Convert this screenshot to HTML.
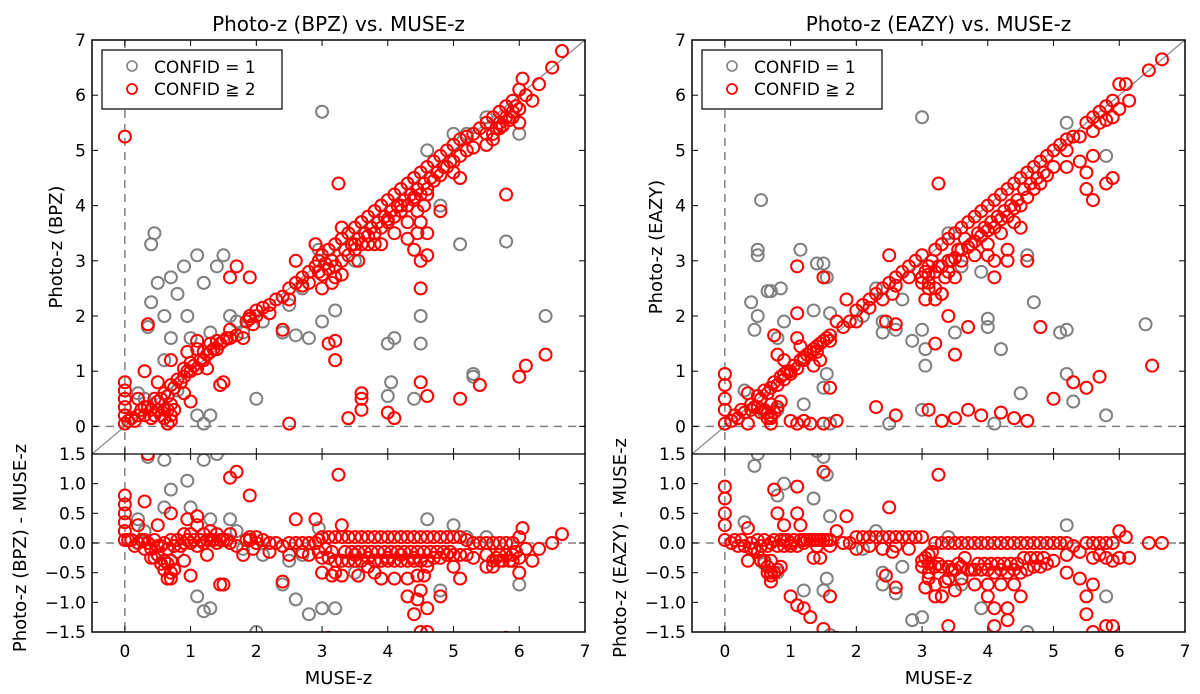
<!DOCTYPE html>
<html><head><meta charset="utf-8">
<style>
html,body{margin:0;padding:0;background:#fff;overflow:hidden;width:1200px;height:694px;}
svg{display:block;}
svg text{font-family:"DejaVu Sans","Liberation Sans",sans-serif;fill:#000;}
</style></head>
<body>
<svg id="chart" width="1200" height="694" xmlns="http://www.w3.org/2000/svg"></svg>
<script>
// ---- data: [MUSE-z, photo-z] ----
const bpzRed = [[0,0.05],[0,0.2],[0,0.35],[0,0.5],[0,0.65],[0,0.8],[0,5.25],[0.05,0.1],[0.1,0.15],[0.15,0.1],[0.2,0.2],[0.25,0.3],[0.3,0.2],[0.35,0.35],[0.4,0.3],[0.45,0.5],[0.5,0.45],[0.55,0.5],[0.6,0.6],[0.65,0.55],[0.7,0.75],[0.7,0.1],[0.7,0.2],[0.7,1.2],[0.75,0.7],[0.8,0.85],[0.85,0.8],[0.9,0.9],[0.95,1.0],[1.0,1.0],[1.05,1.1],[1.1,1.05],[1.15,1.2],[1.2,1.2],[1.25,1.3],[1.3,1.35],[1.35,1.4],[1.4,1.4],[1.45,1.5],[1.5,1.55],[1.55,1.6],[1.6,1.6],[1.1,1.55],[1.6,2.7],[1.5,0.8],[1.7,2.9],[1.85,1.9],[1.9,2.0],[1.95,1.85],[2.0,2.0],[1.9,2.7],[2.1,2.15],[2.2,2.2],[2.3,2.3],[2.4,2.35],[2.5,2.5],[2.6,2.6],[2.5,0.05],[2.4,1.75],[2.7,2.7],[2.8,2.8],[2.9,2.9],[2.95,3.0],[3.0,3.1],[3.05,2.95],[3.1,3.2],[3.15,3.0],[3.2,3.3],[3.25,4.4],[3.3,3.4],[3.35,3.2],[3.4,3.5],[3.45,3.3],[3.5,3.6],[3.55,3.4],[3.6,3.7],[3.65,3.5],[3.7,3.8],[3.75,3.6],[3.8,3.9],[3.85,3.7],[3.9,4.0],[3.95,3.8],[4.0,4.1],[4.05,3.9],[4.1,4.2],[4.15,4.0],[4.2,4.3],[4.25,4.1],[4.3,4.4],[4.35,4.2],[4.4,4.5],[4.45,4.3],[4.5,4.6],[4.55,4.4],[4.6,4.7],[4.65,4.5],[4.7,4.8],[4.75,4.6],[4.8,4.9],[4.85,4.7],[4.9,5.0],[4.95,4.8],[5.0,5.1],[5.1,5.2],[5.2,5.25],[5.3,5.3],[5.4,5.4],[5.5,5.5],[5.6,5.6],[5.7,5.7],[5.8,5.8],[5.9,5.9],[6.0,6.1],[6.05,6.3],[6.1,6.0],[6.2,5.9],[6.3,6.2],[6.5,6.5],[6.65,6.8],[5.8,4.2],[5.1,4.5],[4.6,3.5],[4.3,3.4],[3.9,3.3],[3.5,3.3],[3.2,2.7],[3.1,1.5],[3.2,1.2],[3.2,1.55],[3.6,0.6],[3.6,0.5],[3.6,0.3],[3.4,0.15],[4.0,0.25],[4.1,0.15],[4.5,0.8],[4.6,0.55],[4.5,2.5],[5.1,0.5],[5.4,0.75],[6.0,0.9],[6.1,1.1],[6.4,1.3],[1.0,0.45],[0.3,1.0],[0.5,0.8],[0.2,0.5],[0.6,0.3],[0.65,0.05],[0.9,0.6],[1.1,1.4],[1.3,1.5],[1.8,1.6],[2.6,3.0],[2.9,3.3],[3.3,3.6],[3.7,3.3],[4.0,3.7],[4.2,4.0],[4.4,4.1],[4.5,3.7],[4.6,4.2],[5.0,4.6],[5.5,5.3],[5.6,5.2],[5.7,5.4],[5.9,5.6],[6.0,5.5],[4.8,3.9],[0.35,1.85],[1.45,0.75],[0.95,1.35],[1.25,1.05]];
const bpzRedExtra = [[2.95,2.8],[3.0,2.75],[3.1,2.85],[3.2,2.9],[3.3,3.0],[3.4,3.1],[3.5,3.2],[3.6,3.3],[3.7,3.45],[3.8,3.5],[3.9,3.6],[4.0,3.75],[4.1,3.8],[4.2,3.9],[4.3,4.0],[4.4,4.15],[4.5,4.2],[4.45,3.9],[4.55,4.0],[4.6,4.3],[4.7,4.45],[4.8,4.55],[4.9,4.7],[5.0,4.8],[5.1,4.9],[5.2,5.0],[5.3,5.05],[5.5,5.1],[5.6,5.3],[5.65,5.4],[5.7,5.5],[5.75,5.45],[5.8,5.6],[5.85,5.55],[5.9,5.7],[5.95,5.8],[6.0,5.75],[3.3,2.75],[3.55,3.0],[3.8,3.3],[4.1,3.5],[4.3,3.7],[4.4,3.2],[4.5,3.0],[4.6,3.1],[4.45,3.5],[3.0,2.5],[3.15,2.6],[2.5,2.3],[2.2,2.05],[1.7,1.65],[0.3,0.35],[0.5,0.3],[0.55,0.2],[0.6,0.15],[0.65,0.3],[0.7,0.4],[0.75,0.3],[0.4,0.15],[0.45,0.2],[0.9,1.05],[1.0,1.15],[1.2,1.35],[1.4,1.55],[1.6,1.75],[1.9,1.95],[2.0,2.1],[2.7,2.55],[2.8,2.6]];
const bpzGrey = [[0.4,3.3],[0.45,3.5],[0.5,2.6],[0.4,2.25],[0.6,2.0],[0.7,2.7],[0.8,2.4],[0.9,2.9],[0.95,2.0],[1.0,1.6],[1.1,3.1],[1.2,2.6],[1.3,1.7],[1.4,2.9],[1.5,3.1],[1.6,2.0],[1.1,0.2],[1.2,0.05],[1.3,0.2],[2.0,0.5],[2.1,1.9],[2.4,1.7],[2.6,1.65],[2.8,1.6],[2.95,3.2],[3.0,5.7],[3.0,1.9],[3.2,1.2],[3.2,2.1],[3.5,3.0],[3.8,3.5],[4.0,1.5],[4.1,1.6],[4.05,0.8],[4.0,0.55],[4.4,0.5],[4.5,2.0],[4.5,1.5],[4.6,5.0],[4.8,4.0],[5.0,5.3],[5.1,3.3],[5.2,5.3],[5.3,0.9],[5.3,0.95],[5.8,3.35],[6.4,2.0],[6.0,5.3],[0.3,0.5],[0.5,0.3],[0.8,0.65],[0.2,0.6],[0.35,1.8],[0.6,1.2],[0.7,1.6],[1.7,1.9],[1.8,1.7],[2.5,2.2],[2.7,2.5],[3.3,3.4],[3.6,3.7],[4.2,4.3],[4.4,4.5],[5.5,5.6]];
const eazyRed = [[0,0.05],[0,0.3],[0,0.5],[0,0.75],[0,0.95],[0.1,0.1],[0.15,0.2],[0.2,0.15],[0.25,0.3],[0.3,0.25],[0.35,0.6],[0.4,0.4],[0.45,0.35],[0.5,0.55],[0.55,0.5],[0.6,0.65],[0.65,0.6],[0.7,0.7],[0.7,0.05],[0.75,0.8],[0.8,0.75],[0.8,1.3],[0.85,0.9],[0.9,0.85],[0.95,1.0],[1.0,1.0],[1.05,1.1],[1.1,1.05],[1.15,1.2],[1.2,1.2],[1.25,1.3],[1.3,1.35],[1.35,1.4],[1.4,1.45],[1.45,1.5],[1.5,1.55],[1.55,1.6],[1.6,1.65],[1.1,1.6],[1.15,1.45],[1.1,2.9],[1.5,2.7],[1.1,2.05],[1.7,1.9],[1.8,1.8],[1.85,2.3],[1.9,1.9],[2.0,2.1],[2.1,2.2],[2.2,2.3],[2.3,2.4],[2.4,2.5],[2.5,2.6],[2.55,2.4],[2.6,2.7],[2.7,2.8],[2.8,2.9],[2.5,3.1],[2.45,1.9],[2.6,1.85],[2.9,3.0],[3.0,2.7],[3.0,3.1],[3.05,2.8],[3.1,2.9],[3.1,2.6],[3.15,3.0],[3.2,2.5],[3.2,3.2],[3.25,2.9],[3.25,4.4],[3.3,3.3],[3.3,2.4],[3.35,2.7],[3.4,3.4],[3.45,3.0],[3.5,3.5],[3.55,3.2],[3.6,3.6],[3.65,3.4],[3.7,3.7],[3.75,3.3],[3.8,3.8],[3.85,3.5],[3.9,3.9],[3.95,3.6],[4.0,4.0],[4.05,3.7],[4.1,4.1],[4.15,3.8],[4.2,4.2],[4.25,3.9],[4.3,4.3],[4.35,4.0],[4.4,4.4],[4.45,4.1],[4.5,4.5],[4.55,4.3],[4.6,4.6],[4.65,4.4],[4.7,4.7],[4.75,4.5],[4.8,4.8],[4.85,4.6],[4.9,4.9],[5.0,5.0],[5.1,5.1],[5.2,5.2],[5.3,5.25],[5.5,5.5],[5.6,5.6],[5.7,5.7],[5.8,5.8],[5.9,5.9],[6.0,6.2],[6.1,6.2],[6.15,5.9],[6.45,6.45],[6.65,6.65],[5.6,4.1],[5.5,4.3],[5.5,4.6],[5.2,4.7],[5.4,4.8],[5.6,4.9],[5.8,4.4],[5.9,4.5],[4.0,3.1],[4.3,3.0],[4.6,3.0],[3.7,1.8],[3.5,1.3],[4.1,2.7],[4.8,1.8],[3.4,2.0],[3.2,1.5],[3.1,0.3],[3.3,0.1],[3.5,0.15],[3.7,0.3],[3.9,0.2],[4.2,0.25],[4.4,0.15],[4.6,0.1],[5.0,0.5],[5.3,0.8],[5.5,0.7],[5.7,0.9],[2.6,0.2],[2.3,0.35],[1.0,0.1],[1.1,0.05],[1.2,0.1],[1.3,0.05],[1.5,0.05],[1.7,0.1],[1.6,0.7],[6.5,1.1],[0.75,1.65],[0.35,0.05],[0.7,0.15],[0.9,1.2],[1.35,1.1],[1.45,1.2]];
const eazyRedExtra = [[3.0,2.6],[3.1,2.75],[3.2,2.8],[3.3,2.9],[3.4,3.0],[3.5,3.05],[3.6,3.2],[3.7,3.25],[3.8,3.35],[3.9,3.45],[4.0,3.55],[4.1,3.6],[4.2,3.75],[4.3,3.8],[4.4,3.95],[4.5,4.0],[4.6,4.15],[4.7,4.3],[4.8,4.4],[4.9,4.55],[5.0,4.7],[3.4,2.8],[3.6,3.0],[3.8,3.1],[4.0,3.3],[4.2,3.5],[4.4,3.7],[4.5,3.6],[4.3,3.2],[4.1,3.0],[3.3,2.4],[3.5,2.7],[3.2,2.3],[3.05,2.3],[3.1,2.5],[5.2,5.0],[5.4,5.25],[5.6,5.35],[5.7,5.5],[5.8,5.55],[5.9,5.6],[6.0,5.75],[0.4,0.3],[0.5,0.35],[0.55,0.25],[0.6,0.3],[0.65,0.25],[0.7,0.4],[0.75,0.25],[0.8,0.35],[0.85,0.45],[0.7,0.2],[0.65,0.15],[0.9,0.95],[1.0,0.95],[1.2,1.25],[1.4,1.35],[1.6,1.55],[2.0,1.9],[2.2,2.15],[2.4,2.3],[2.6,2.55],[2.8,2.7]];
const eazyGrey = [[0.55,4.1],[0.5,3.2],[0.5,3.1],[0.4,2.25],[0.45,1.75],[0.5,2.0],[0.65,2.45],[0.7,2.45],[0.85,2.5],[0.9,1.9],[0.8,1.6],[1.15,3.2],[1.4,2.95],[1.5,2.95],[1.55,2.7],[1.35,2.1],[1.6,2.05],[1.55,0.95],[1.5,0.7],[1.2,0.4],[0.8,0.3],[1.6,0.05],[2.4,1.9],[2.4,1.7],[2.6,1.75],[2.7,2.3],[2.85,1.55],[3.0,5.6],[3.0,1.75],[3.05,1.4],[3.05,1.1],[3.5,1.3],[3.5,1.7],[3.6,2.9],[3.9,2.8],[4.0,1.8],[4.0,1.95],[4.2,1.4],[4.1,0.05],[4.5,0.6],[4.6,3.1],[4.7,2.25],[5.1,1.7],[5.2,1.75],[5.2,0.95],[5.3,0.45],[5.8,0.2],[5.8,4.9],[6.4,1.85],[5.1,5.1],[5.2,5.5],[2.5,0.05],[3.0,0.3],[0.3,0.65],[0.6,0.25],[2.1,2.0],[2.3,2.5],[3.4,3.5]];

const zoomRange = [-0.5, 7];
const topRange = [-0.5, 7];
const resRange = [-1.5, 1.5];
const xTicks = [0,1,2,3,4,5,6,7];
const yTicks = [0,1,2,3,4,5,6,7];
const resTicks = [-1.5,-1.0,-0.5,0.0,0.5,1.0,1.5];
const resTickLabels = ["\u22121.5","\u22121.0","\u22120.5","0.0","0.5","1.0","1.5"];

const NS = "http://www.w3.org/2000/svg";
const svg = document.getElementById('chart');
function mk(tag, attrs, parent){const e=document.createElementNS(NS,tag);for(const k in attrs)e.setAttribute(k,attrs[k]);(parent||svg).appendChild(e);return e;}

const TOP=40, MID=454, BOT=632;
function panel(ox, title, ylab, ylabRes, red, grey, key){
  const L=ox, R=ox+493;
  const g = mk('g',{});
  
  
  const sx = v => L + (v - zoomRange[0])/(zoomRange[1]-zoomRange[0])*(R-L);
  const sy = v => MID - (v - topRange[0])/(topRange[1]-topRange[0])*(MID-TOP);
  const sr = v => BOT - (v - resRange[0])/(resRange[1]-resRange[0])*(BOT-MID);
  const cid='clipT'+key, cid2='clipB'+key;
  const defs=mk('defs',{},g);
  const c1=mk('clipPath',{id:cid},defs); mk('rect',{x:L,y:TOP,width:R-L,height:MID-TOP},c1);
  const c2=mk('clipPath',{id:cid2},defs); mk('rect',{x:L,y:MID,width:R-L,height:BOT-MID},c2);
  const tg=mk('g',{'clip-path':`url(#${cid})`},g);
  const diag=mk('line',{x1:sx(-0.5),y1:sy(-0.5),x2:sx(7),y2:sy(7),stroke:'#808080','stroke-width':1.2},tg);
  
  
  mk('line',{x1:sx(0),y1:TOP,x2:sx(0),y2:MID,stroke:'#808080','stroke-width':1.5,'stroke-dasharray':'8,6'},tg);
  mk('line',{x1:L,y1:sy(0),x2:R,y2:sy(0),stroke:'#808080','stroke-width':1.5,'stroke-dasharray':'8,6'},tg);
  const drawPts=(arr,col,res,parent,nm)=>{arr.forEach(p=>{
    const y = res ? sr(p[1]-p[0]) : sy(p[1]);
    const c=mk('circle',{cx:sx(p[0]),cy:y,r:6,fill:'none',stroke:col,'stroke-width':2},parent);
    
    
  });};
  drawPts(grey,'#808080',false,tg,'point-confid-1');
  drawPts(red,'#ff0000',false,tg,'point-confid-2');
  const bg=mk('g',{'clip-path':`url(#${cid2})`},g);
  mk('line',{x1:sx(0),y1:MID,x2:sx(0),y2:BOT,stroke:'#808080','stroke-width':1.5,'stroke-dasharray':'8,6'},bg);
  mk('line',{x1:L,y1:sr(0),x2:R,y2:sr(0),stroke:'#808080','stroke-width':1.5,'stroke-dasharray':'8,6'},bg);
  drawPts(grey,'#808080',true,bg,'residual-confid-1');
  drawPts(red,'#ff0000',true,bg,'residual-confid-2');
  mk('rect',{x:L,y:TOP,width:R-L,height:BOT-TOP,fill:'none',stroke:'#000','stroke-width':1.5},g);
  mk('line',{x1:L,y1:MID,x2:R,y2:MID,stroke:'#000','stroke-width':1.2},g);
  xTicks.forEach(t=>{const x=sx(t);
    [[MID,MID-6],[MID,MID+6],[BOT,BOT-6],[TOP,TOP+6]].forEach(a=>mk('line',{x1:x,y1:a[0],x2:x,y2:a[1],stroke:'#000','stroke-width':1},g));
    const tx=mk('text',{x:x,y:BOT+25,'font-size':17,'text-anchor':'middle'},g);tx.textContent=t;
    
    
  });
  yTicks.forEach(t=>{const y=sy(t);
    mk('line',{x1:L,y1:y,x2:L+6,y2:y,stroke:'#000'},g);mk('line',{x1:R,y1:y,x2:R-6,y2:y,stroke:'#000'},g);
    const tx=mk('text',{x:L-6,y:y+6,'font-size':17,'text-anchor':'end'},g);tx.textContent=t;
    
    
  });
  resTicks.forEach((t,i)=>{const y=sr(t);
    mk('line',{x1:L,y1:y,x2:L+6,y2:y,stroke:'#000'},g);mk('line',{x1:R,y1:y,x2:R-6,y2:y,stroke:'#000'},g);
    const tx=mk('text',{x:L-6,y:y+6,'font-size':17,'text-anchor':'end'},g);tx.textContent=resTickLabels[i];
    
    
  });
  const tt=mk('text',{x:(L+R)/2,y:31,'font-size':20,'text-anchor':'middle'},g);tt.textContent=title;
  
  
  const xl=mk('text',{x:(L+R)/2,y:BOT+52,'font-size':18,'text-anchor':'middle'},g);xl.textContent='MUSE-z';
  
  
  const yl=mk('text',{x:0,y:0,'font-size':18,'text-anchor':'middle',transform:`translate(${L-30},${(TOP+MID)/2}) rotate(-90)`},g);yl.textContent=ylab;
  
  
  const yr=mk('text',{x:0,y:0,'font-size':18,'text-anchor':'middle',transform:`translate(${L-66},${(MID+BOT)/2+5}) rotate(-90)`},g);yr.textContent=ylabRes;
  
  
  const lg=mk('g',{},g);
  
  
  mk('rect',{x:L+10,y:50,width:180,height:59,fill:'#fff',stroke:'#000','stroke-width':1.2},lg);
  mk('circle',{cx:L+40,cy:66,r:5,fill:'none',stroke:'#808080','stroke-width':1.6},lg);
  mk('circle',{cx:L+40,cy:89,r:5,fill:'none',stroke:'#ff0000','stroke-width':1.8},lg);
  const l1=mk('text',{x:L+62,y:73,'font-size':17},lg);l1.textContent='CONFID = 1';
  
  
  const l2=mk('text',{x:L+62,y:95,'font-size':17},lg);l2.textContent='CONFID \u2267 2';
  
  
}
panel(92,'Photo-z (BPZ) vs. MUSE-z','Photo-z (BPZ)','Photo-z (BPZ) - MUSE-z',bpzRed.concat(bpzRedExtra),bpzGrey,'bpz');
panel(692,'Photo-z (EAZY) vs. MUSE-z','Photo-z (EAZY)','Photo-z (EAZY) - MUSE-z',eazyRed.concat(eazyRedExtra),eazyGrey,'eazy');
</script>
</body></html>
